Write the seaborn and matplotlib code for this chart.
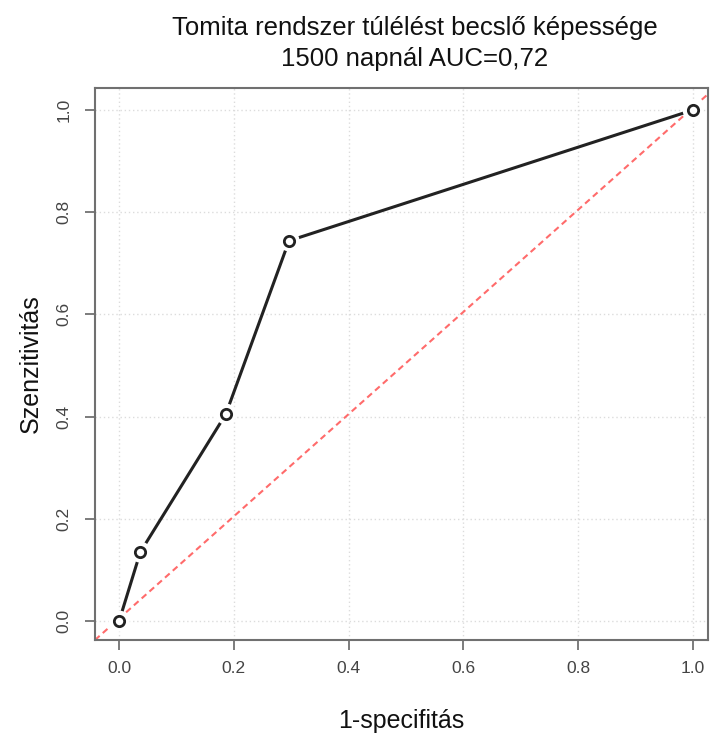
import matplotlib
matplotlib.use("Agg")
import matplotlib.pyplot as plt
import seaborn as sns
import pandas as pd

fpr = [0.0, 0.037, 0.186, 0.296, 1.0]
tpr = [0.0, 0.135, 0.405, 0.744, 1.0]
ticks = [0.0, 0.2, 0.4, 0.6, 0.8, 1.0]
tick_labels = ["0.0", "0.2", "0.4", "0.6", "0.8", "1.0"]
title = "Tomita rendszer túlélést becslő képessége\n1500 napnál AUC=0,72"
xlabel = "1-specifitás"
ylabel = "Szenzitivitás"

sns.set_theme(style="white")
plt.rcParams['font.family'] = ['Liberation Sans', 'DejaVu Sans']

df = pd.DataFrame({"fpr": fpr, "tpr": tpr})

fig = plt.figure(figsize=(7.11, 7.38), dpi=100)
ax = fig.add_axes([0.1336, 0.1328, 0.9958 - 0.1336, 0.8808 - 0.1328])

ax.set_xlim(-0.042, 1.026)
ax.set_ylim(-0.037, 1.043)

for t in ticks:
    ax.axvline(t, color="#dcdcdc", lw=1, ls=(0, (1, 2)), zorder=0)
    ax.axhline(t, color="#dcdcdc", lw=1, ls=(0, (1, 2)), zorder=0)

ax.plot([-0.042, 1.1], [-0.037, 1.105], color="#ff6b6b", lw=1.5, ls=(0, (3, 2)), zorder=1)

sns.lineplot(data=df, x="fpr", y="tpr", ax=ax, color="#222222", lw=2.2,
             sort=False, zorder=3)
sns.scatterplot(data=df, x="fpr", y="tpr", ax=ax, color="white", s=230,
                edgecolor="none", linewidth=0, zorder=4)
sns.scatterplot(data=df, x="fpr", y="tpr", ax=ax, color="white", s=55,
                edgecolor="#222222", linewidth=2, zorder=5)

ax.set_xticks(ticks)
ax.set_xticklabels(tick_labels)
ax.set_yticks(ticks)
ax.set_yticklabels(tick_labels, rotation=90, va="center")
ax.tick_params(axis="x", which="both", length=7, width=1.2, color="#666666",
               labelsize=12.5, labelcolor="#444444", direction="out", pad=8)
ax.tick_params(axis="y", which="both", length=7, width=1.2, color="#666666",
               labelsize=12.5, labelcolor="#444444", direction="out", pad=10)
ax.tick_params(left=True, bottom=True)

for s in ax.spines.values():
    s.set_visible(True)
    s.set_color("#707070")
    s.set_linewidth(1.5)

ax.set_xlabel(xlabel, fontsize=18, color="#111111", labelpad=24)
ax.set_ylabel(ylabel, fontsize=18, color="#111111", labelpad=10)
ax.set_title(title, fontsize=18.5, color="#111111", pad=16, linespacing=1.33,
             x=0.522)

fig.savefig("out.png", dpi=100)
